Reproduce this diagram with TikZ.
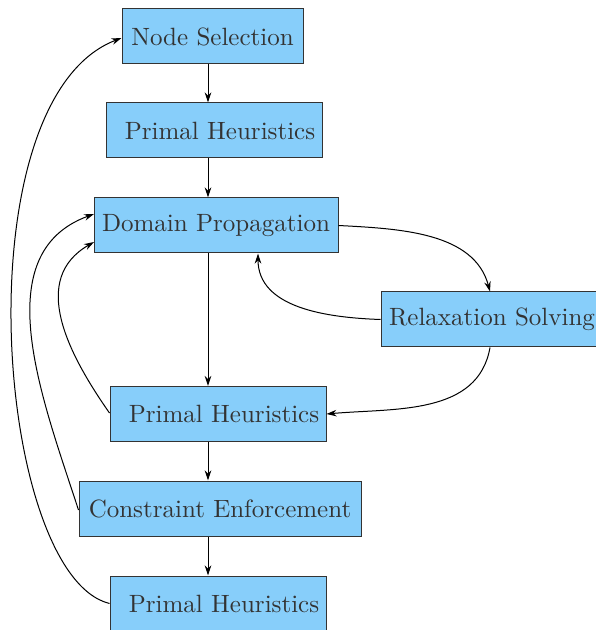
\documentclass[tikz,border=0pt]{standalone}
\usetikzlibrary{arrows.meta}
\definecolor{boxfill}{HTML}{87CEFA}
\definecolor{ink}{HTML}{333333}
\begin{document}
\begin{tikzpicture}[x=0.4pt,y=0.4pt,
  box/.style={draw=ink,fill=boxfill,text=ink,inner sep=0pt,minimum height=22pt,line width=0.4pt},
  arr/.style={-{Stealth[length=4pt,width=2.6pt]},line width=0.4pt,black}]
\useasboundingbox (0,0) rectangle (595,-630);
\node[box,minimum width=72.4pt] (ns) at (212.5,-36.5) {Node Selection};
\node[box,minimum width=86.4pt] (ph1) at (214,-130.5) {\hspace{4.8pt}Primal Heuristics};
\node[box,minimum width=97.6pt] (dp) at (216,-225.5) {Domain Propagation};
\node[box,minimum width=88.8pt] (rs) at (492,-319.5) {Relaxation Solving};
\node[box,minimum width=86.4pt] (ph2) at (218,-414) {\hspace{4.8pt}Primal Heuristics};
\node[box,minimum width=112.8pt] (ce) at (220,-508.5) {Constraint Enforcement};
\node[box,minimum width=86.4pt] (ph3) at (218,-603.5) {\hspace{4.8pt}Primal Heuristics};
\coordinate (col) at (208,0);
\coordinate (c1) at (258,0);
\coordinate (c2) at (490,0);
% vertical flow
\draw[arr] (ns.south -| col) -- (ph1.north -| col);
\draw[arr] (ph1.south -| col) -- (dp.north -| col);
\draw[arr] (dp.south -| col) -- (ph2.north -| col);
\draw[arr] (ph2.south -| col) -- (ce.north -| col);
\draw[arr] (ce.south -| col) -- (ph3.north -| col);
% relaxation loop
\draw[arr] (dp.east) to[out=-3,in=105,looseness=0.95] (rs.north -| c2);
\draw[arr] (rs.west) to[out=178,in=-90] (dp.south -| c1);
\draw[arr] (rs.south -| c2) to[out=-100,in=5] (ph2.east);
% left loops
\coordinate (d1) at (94,-242);
\coordinate (d2) at (94,-214);
\draw[arr] ([yshift=0.4pt]ph2.west) to[out=125,in=210,looseness=1.1] (d1);
\draw[arr] ([yshift=-0.6pt]ce.west) to[out=108,in=200,looseness=1.0] (d2);
\draw[arr] (ph3.west) .. controls (-5,-575) and (-40,-100) .. ([yshift=-0.6pt]ns.west);
\end{tikzpicture}
\end{document}
